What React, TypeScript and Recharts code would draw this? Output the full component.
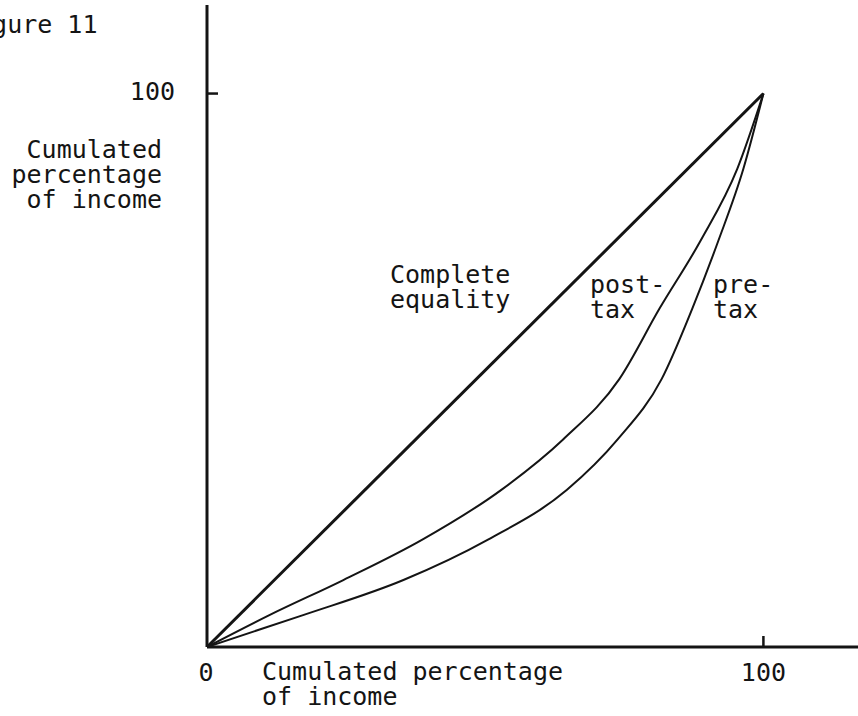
import React from 'react';
import { LineChart, Line, XAxis, YAxis } from 'recharts';

// Lorenz curves, values (percent)
const equalityX = [0, 100];
const equalityY = [0, 100];

const postTaxX = [0, 11.3, 24.5, 38.7, 52.9, 64.0, 74.1, 81.3, 88.7, 95.3, 100];
const postTaxY = [0, 5.8, 12.1, 19.4, 28.4, 37.5, 48.4, 61.1, 73.4, 86.4, 100];

const preTaxX = [0, 17.4, 35.3, 50.5, 64.7, 73.8, 81.7, 87.2, 91.9, 96.4, 100];
const preTaxY = [0, 5.8, 12.1, 19.4, 28.4, 37.5, 48.4, 61.1, 73.4, 86.4, 100];

const xTicks = [0, 100];
const yTicks = [100];

const INK = '#141414';
const FONT = '"DejaVu Sans Mono", monospace';
const FS = 25;

const toPoints = (xs: number[], ys: number[]) => xs.map((x, i) => ({ x, y: ys[i] }));

const XTick = (props: any) => {
  const { x, y, payload } = props;
  return (
    <g>
      {payload.value !== 0 && (
        <line x1={x} x2={x} y1={y} y2={y - 11} stroke={INK} strokeWidth={2.5} />
      )}
      <text
        x={payload.value === 0 ? x - 1 : x}
        y={y + 25}
        textAnchor="middle"
        dominantBaseline="central"
        fontFamily={FONT}
        fontSize={FS}
        fill={INK}
      >
        {payload.value}
      </text>
    </g>
  );
};

const YTick = (props: any) => {
  const { x, y, payload } = props;
  return (
    <g>
      <line x1={x} x2={x + 11} y1={y} y2={y} stroke={INK} strokeWidth={2.5} />
      <text
        x={x - 32}
        y={y - 2}
        textAnchor="end"
        dominantBaseline="central"
        fontFamily={FONT}
        fontSize={FS}
        fill={INK}
      >
        {payload.value}
      </text>
    </g>
  );
};

// multi-line text block placed on the page
const Note = ({ left, right, top, lines, align = 'left' }: any) => (
  <div
    style={{
      position: 'absolute',
      left,
      right,
      top,
      fontFamily: FONT,
      fontSize: FS,
      lineHeight: '25px',
      color: INK,
      whiteSpace: 'pre',
      textAlign: align,
    }}
  >
    {lines.join('\n')}
  </div>
);

export default function App() {
  return (
    <div style={{ position: 'absolute', left: 0, top: 0, width: 858, height: 716, background: '#fff', overflow: 'hidden' }}>
      <LineChart width={858} height={716} margin={{ top: 5, right: 0, bottom: 0, left: 0 }}>
        <XAxis
          dataKey="x"
          type="number"
          domain={[0, 117]}
          ticks={xTicks}
          interval={0}
          height={69}
          tickSize={0}
          tickMargin={0}
          tickLine={false}
          tick={<XTick />}
          axisLine={{ stroke: INK, strokeWidth: 3 }}
          allowDataOverflow
        />
        <YAxis
          dataKey="y"
          type="number"
          domain={[0, 116]}
          ticks={yTicks}
          interval={0}
          width={207}
          tickSize={0}
          tickMargin={0}
          tickLine={false}
          tick={<YTick />}
          axisLine={{ stroke: INK, strokeWidth: 3 }}
          allowDataOverflow
        />
        <Line
          data={toPoints(equalityX, equalityY)}
          dataKey="y"
          type="linear"
          stroke={INK}
          strokeWidth={3}
          dot={false}
          isAnimationActive={false}
        />
        <Line
          data={toPoints(postTaxX, postTaxY)}
          dataKey="y"
          type="monotone"
          stroke={INK}
          strokeWidth={2}
          dot={false}
          isAnimationActive={false}
        />
        <Line
          data={toPoints(preTaxX, preTaxY)}
          dataKey="y"
          type="monotone"
          stroke={INK}
          strokeWidth={2}
          dot={false}
          isAnimationActive={false}
        />
      </LineChart>

      <Note left={-38} top={12} lines={['Figure 11']} />
      <Note right={858 - 162} top={137} lines={['Cumulated', 'percentage', 'of income']} align="right" />
      <Note left={390} top={262} lines={['Complete', 'equality']} />
      <Note left={590} top={272} lines={['post-', 'tax']} />
      <Note left={713} top={272} lines={['pre-', 'tax']} />
      <Note left={262} top={659} lines={['Cumulated percentage', 'of income']} />
    </div>
  );
}
